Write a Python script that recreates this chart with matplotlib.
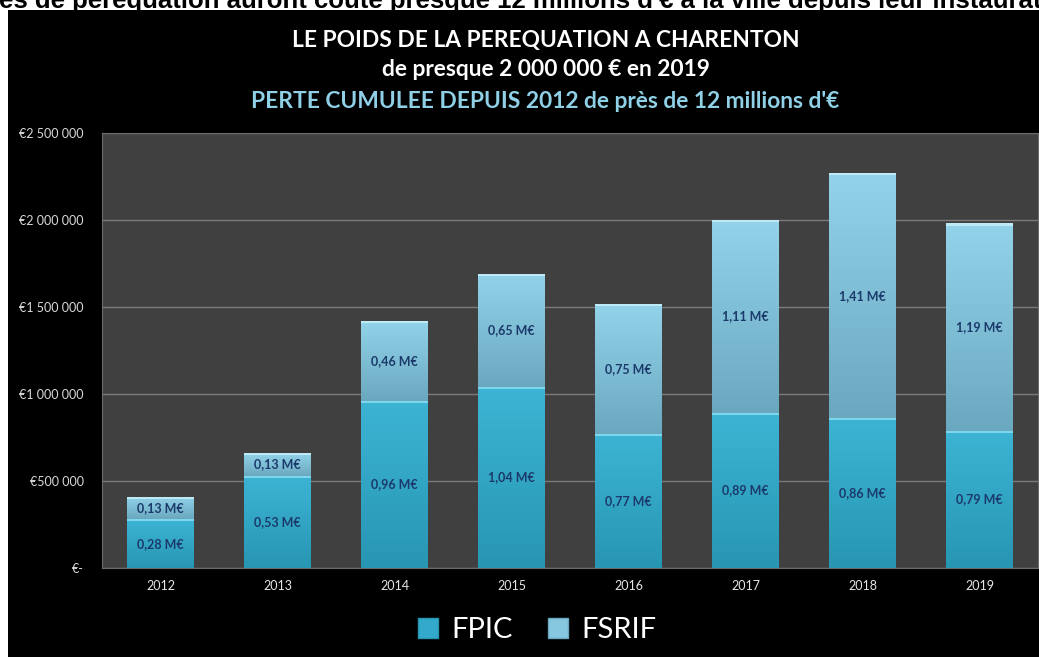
import numpy as np
import matplotlib
matplotlib.use("Agg")
import matplotlib.pyplot as plt
from matplotlib.patches import Rectangle, Patch
from matplotlib.ticker import FuncFormatter, MultipleLocator
from matplotlib.colors import LinearSegmentedColormap

plt.rcParams['font.family'] = ['Lato', 'DejaVu Sans']

# data (millions of euros)
years = ['2012', '2013', '2014', '2015', '2016', '2017', '2018', '2019']
fpic = [0.28, 0.53, 0.96, 1.04, 0.77, 0.89, 0.86, 0.79]
fsrif = [0.13, 0.13, 0.46, 0.65, 0.75, 1.11, 1.41, 1.19]

fpic_eur = [v * 1e6 for v in fpic]
fsrif_eur = [v * 1e6 for v in fsrif]

fig = plt.figure(figsize=(10.39, 6.57), dpi=100, facecolor='white')

# black panel behind the chart
fig.patches.append(Rectangle((8 / 1039, 0), 1, 1 - 10 / 657, transform=fig.transFigure,
                             facecolor='black', edgecolor='none', zorder=0))

# cut-off line of text above the chart (as in the source screenshot)
fig.text(-0.001, 1 - 8 / 657,
         "es de péréquation auront coûté presque 12 millions d'€ à la ville depuis leur instauration",
         ha='left', va='baseline', fontsize=18.5, fontweight='bold', color='black',
         family=['Liberation Sans', 'DejaVu Sans'])

ax = fig.add_axes([102 / 1039, 89 / 657, 936 / 1039, 435 / 657])
ax.set_facecolor('#404040')
ax.set_zorder(1)

x = np.arange(len(years))
width = 0.57

fpic_cmap = LinearSegmentedColormap.from_list('fpic', ['#2796b3', '#3db4d4'])
fsrif_cmap = LinearSegmentedColormap.from_list('fsrif', ['#6aa8bf', '#93d4ea'])
grad = np.linspace(0, 1, 256).reshape(-1, 1)


def gradient_bars(bars, cmap, top_color):
    for b in bars:
        x0, y0 = b.get_x(), b.get_y()
        w, h = b.get_width(), b.get_height()
        im = ax.imshow(grad, cmap=cmap, origin='lower', aspect='auto',
                       extent=(x0, x0 + w, y0, y0 + h), zorder=3)
        im.set_clip_path(b)
        # light bevel at the top of each segment
        ax.add_patch(Rectangle((x0, y0 + h - 12000), w, 12000, facecolor=top_color,
                               edgecolor='none', alpha=0.8, zorder=4))


b1 = ax.bar(x, fpic_eur, width, color='#33aacb', edgecolor='none', zorder=2)
b2 = ax.bar(x, fsrif_eur, width, bottom=fpic_eur, color='#85c8df', edgecolor='none', zorder=2)
gradient_bars(b1, fpic_cmap, '#8fe0f4')
gradient_bars(b2, fsrif_cmap, '#c8f0fa')

label_kw = dict(ha='center', va='center', fontsize=9, fontweight='bold', color='#1b3a6b', zorder=5)
for i in range(len(years)):
    ax.text(x[i], fpic_eur[i] / 2, f"{fpic[i]:.2f} M€".replace('.', ','), **label_kw)
    ax.text(x[i], fpic_eur[i] + fsrif_eur[i] / 2, f"{fsrif[i]:.2f} M€".replace('.', ','), **label_kw)

ax.set_xlim(-0.5, len(years) - 0.5)
ax.set_ylim(0, 2500000)
ax.yaxis.set_major_locator(MultipleLocator(500000))


def euro_fmt(v, pos):
    if v == 0:
        return '€-'
    return '€' + f"{int(v):,}".replace(',', ' ')


ax.yaxis.set_major_formatter(FuncFormatter(euro_fmt))
ax.set_xticks(x)
ax.set_xticklabels(years)
ax.tick_params(axis='y', length=0, pad=13, labelsize=9, labelcolor='#d9d9d9')
ax.tick_params(axis='x', length=0, pad=9, labelsize=9, labelcolor='#e6e6e6')
ax.grid(axis='y', color='#7a7a7a', linewidth=1, zorder=1)
ax.set_axisbelow(True)
for s in ax.spines.values():
    s.set_color('#6a6a6a')

# titles
fig.text(0.525, 1 - 40 / 657, 'LE POIDS DE LA PEREQUATION A CHARENTON', ha='center', va='center',
         fontsize=16.4, fontweight='bold', color='white')
fig.text(0.525, 1 - 69 / 657, 'de presque 2 000 000 € en 2019', ha='center', va='center',
         fontsize=16.4, fontweight='bold', color='white')
fig.text(0.525, 1 - 101 / 657, "PERTE CUMULEE DEPUIS 2012 de près de 12 millions d'€", ha='center',
         va='center', fontsize=16.4, fontweight='bold', color='#8fd0e6')

handles = [Patch(facecolor='#33aacb', edgecolor='#2796b3', label='FPIC'),
           Patch(facecolor='#85c8df', edgecolor='#6aa8bf', label='FSRIF')]
fig.legend(handles=handles, loc='center', bbox_to_anchor=(0.517, 1 - 630 / 657), ncol=2,
           frameon=False, fontsize=21, labelcolor='white', handlelength=0.7, handleheight=0.7,
           handletextpad=0.45, columnspacing=1.2)

fig.savefig('out.png', dpi=100, facecolor='white')
